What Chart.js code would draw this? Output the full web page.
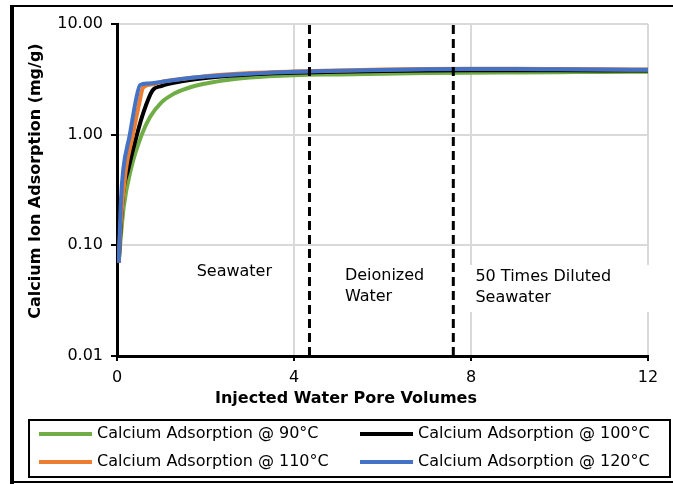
<!DOCTYPE html>
<html>
<head>
<meta charset="utf-8">
<script src="https://cdn.jsdelivr.net/npm/chart.js@4.4.1/dist/chart.umd.min.js"></script>
<style>
  html, body { margin: 0; padding: 0; background: #fff; }
  canvas { display: block; }
</style>
</head>
<body>
<canvas id="chart" width="673" height="484"></canvas>
<script>
// injected pore volumes (x) and calcium adsorption mg/g (y)
const pv90  = [0.04, 0.07, 0.15, 0.31, 0.56, 0.75, 1.0, 1.25, 1.5, 1.75, 2.1, 3, 4, 5, 6, 7, 8, 9, 10, 11, 12];
const ca90  = [0.07, 0.1, 0.22, 0.48, 1.0, 1.45, 1.95, 2.3, 2.55, 2.75, 2.95, 3.28, 3.45, 3.5, 3.55, 3.6, 3.63, 3.65, 3.67, 3.69, 3.7];
const pv100 = [0.04, 0.07, 0.14, 0.25, 0.45, 0.6, 0.8, 1, 1.5, 2, 3, 4, 5, 6, 7, 8, 9, 10, 11, 12];
const ca100 = [0.07, 0.12, 0.3, 0.48, 1.0, 1.6, 2.5, 2.75, 3.05, 3.25, 3.5, 3.62, 3.7, 3.76, 3.8, 3.82, 3.83, 3.82, 3.81, 3.8];
const pv110 = [0.04, 0.08, 0.2, 0.36, 0.5, 0.59, 0.8, 1, 1.5, 2, 3, 4, 5, 6, 7, 8, 9, 10, 11, 12];
const ca110 = [0.07, 0.15, 0.48, 1.0, 1.9, 2.66, 2.85, 3.0, 3.2, 3.38, 3.6, 3.72, 3.8, 3.88, 3.93, 3.95, 3.94, 3.92, 3.9, 3.88];
const pv120 = [0.04, 0.09, 0.14, 0.29, 0.43, 0.52, 0.7, 1, 1.5, 2, 3, 4, 5, 6, 7, 8, 9, 10, 11, 12];
const ca120 = [0.07, 0.26, 0.48, 1.0, 2.07, 2.8, 2.9, 3.0, 3.2, 3.35, 3.55, 3.7, 3.78, 3.85, 3.9, 3.92, 3.92, 3.9, 3.88, 3.86];

const seriesNames = ['Calcium Adsorption @ 90°C', 'Calcium Adsorption @ 100°C',
                     'Calcium Adsorption @ 110°C', 'Calcium Adsorption @ 120°C'];
const seriesColors = ['#70ad47', '#000000', '#ed7d31', '#4472c4'];

const xTicks = [0, 4, 8, 12];
const yTicks = [0.01, 0.1, 1, 10];
const boundaryPV = [4.35, 7.6];          // fluid switch points (dashed)
const zoneLabels = [['Seawater'], ['Deionized', 'Water'], ['50 Times Diluted', 'Seawater']];
const zoneLabelPV = [1.8, 5.15, 8.1];

const FONT = "'DejaVu Sans', sans-serif";

const toPoints = (xs, ys) => xs.map((x, i) => ({ x: x, y: ys[i] }));
const curves = [[pv90, ca90], [pv100, ca100], [pv110, ca110], [pv120, ca120]];

const datasets = curves.map((c, i) => ({
  label: seriesNames[i],
  data: toPoints(c[0], c[1]),
  borderColor: seriesColors[i],
  backgroundColor: seriesColors[i],
  borderWidth: 4,
  pointRadius: 0,
  fill: false,
  cubicInterpolationMode: 'monotone',
  order: 4 - i
}));

boundaryPV.forEach(b => {
  datasets.push({
    label: '',
    data: [{ x: b, y: yTicks[0] }, { x: b, y: yTicks[yTicks.length - 1] }],
    borderColor: '#000',
    borderWidth: 3,
    borderDash: [9, 5],
    pointRadius: 0,
    fill: false,
    order: 0
  });
});

const extras = {
  id: 'extras',
  afterDatasetsDraw(chart) {
    const ctx = chart.ctx;
    const xs = chart.scales.x;
    ctx.save();
    // white box behind the third label (it hides the grid line)
    ctx.fillStyle = '#fff';
    ctx.fillRect(xs.getPixelForValue(zoneLabelPV[2]) - 6, 265, 190, 47);
    ctx.fillStyle = '#000';
    ctx.font = '16px ' + FONT;
    ctx.textBaseline = 'middle';
    ctx.textAlign = 'left';
    const rowY = [[272], [276, 297], [277, 298]];
    zoneLabels.forEach((lines, i) => {
      const px = xs.getPixelForValue(zoneLabelPV[i]);
      lines.forEach((t, j) => ctx.fillText(t, px, rowY[i][j]));
    });
    ctx.restore();
  },
  afterDraw(chart) {
    const ctx = chart.ctx;
    ctx.save();
    ctx.fillStyle = '#000';
    // axis titles
    ctx.font = 'bold 16px ' + FONT;
    ctx.textAlign = 'center';
    ctx.textBaseline = 'middle';
    ctx.fillText('Injected Water Pore Volumes', 346, 399);
    ctx.save();
    ctx.translate(36, 181);
    ctx.rotate(-Math.PI / 2);
    ctx.fillText('Calcium Ion Adsorption (mg/g)', 0, 0);
    ctx.restore();

    // legend
    ctx.strokeStyle = '#000';
    ctx.lineWidth = 2;
    ctx.strokeRect(29, 420, 641, 57);
    ctx.font = '16px ' + FONT;
    ctx.textAlign = 'left';
    const cols = [39, 360];
    const rows = [434, 462];
    seriesNames.forEach((name, i) => {
      const cx = cols[i % 2];
      const cy = rows[Math.floor(i / 2)];
      ctx.strokeStyle = seriesColors[i];
      ctx.lineWidth = 4;
      ctx.beginPath();
      ctx.moveTo(cx, cy);
      ctx.lineTo(cx + 53, cy);
      ctx.stroke();
      ctx.fillStyle = '#000';
      ctx.fillText(name, cx + 58, cy);
    });

    // outer frame
    ctx.fillStyle = '#000';
    ctx.fillRect(10, 5, 4, 479);
    ctx.fillRect(10, 5, 663, 2);
    ctx.fillRect(10, 481, 663, 2);
    ctx.restore();
  }
};

Chart.defaults.font.family = FONT;
Chart.defaults.font.size = 16;
Chart.defaults.color = '#000';

new Chart(document.getElementById('chart').getContext('2d'), {
  type: 'line',
  data: { datasets: datasets },
  options: {
    responsive: false,
    animation: false,
    layout: { padding: { left: 0, right: 25, top: 24, bottom: 0 } },
    plugins: {
      legend: { display: false },
      tooltip: { enabled: false }
    },
    scales: {
      x: {
        type: 'linear',
        min: xTicks[0],
        max: xTicks[xTicks.length - 1],
        afterBuildTicks: s => { s.ticks = xTicks.map(v => ({ value: v })); },
        afterFit: s => { s.height = 128; },
        ticks: { padding: 7, maxRotation: 0, callback: v => String(v) },
        grid: { color: '#d9d9d9', lineWidth: 2, tickColor: '#000', tickWidth: 2, tickLength: 5 },
        border: { color: '#000', width: 3 }
      },
      y: {
        type: 'logarithmic',
        min: yTicks[0],
        max: yTicks[yTicks.length - 1],
        afterBuildTicks: s => { s.ticks = yTicks.map(v => ({ value: v })); },
        afterFit: s => { s.width = 117; },
        ticks: { padding: 8, callback: v => Number(v).toFixed(2) },
        grid: { color: '#d9d9d9', lineWidth: 2, tickColor: '#000', tickWidth: 2, tickLength: 6 },
        border: { color: '#000', width: 3 }
      }
    }
  },
  plugins: [extras]
});
</script>
</body>
</html>
